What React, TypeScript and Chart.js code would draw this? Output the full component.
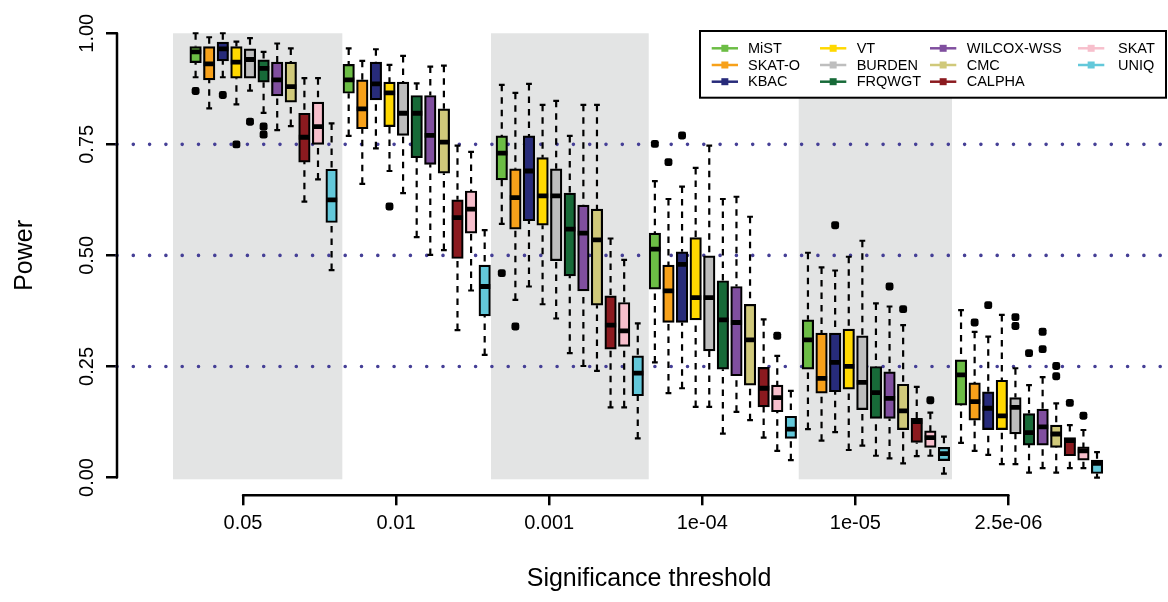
import React, { useEffect, useRef } from "react";
import { Chart, registerables } from "chart.js";

Chart.register(...registerables);

// ---------------- data ----------------
const METHODS = ["MiST", "SKAT-O", "KBAC", "VT", "BURDEN", "FRQWGT", "WILCOX-WSS", "CMC", "CALPHA", "SKAT", "UNIQ"];
const COLORS = ["#6cbd45", "#f7a11a", "#272b7a", "#ffd800", "#bebebe", "#176a38", "#804f9f", "#d0c97a", "#8b1a1f", "#f7bfcc", "#63c8da"];
const THRESHOLDS = ["0.05", "0.01", "0.001", "1e-04", "1e-05", "2.5e-06"];
const Y_TICKS = [0, 0.25, 0.5, 0.75, 1];
const Y_TICK_LABELS = ["0.00", "0.25", "0.50", "0.75", "1.00"];
const REFERENCE_LINES = [0.25, 0.5, 0.75];

// one row per threshold: [lower whisker, Q1, median, Q3, upper whisker]
const MIST = [
  [0.901, 0.934, 0.958, 0.970, 1.000],
  [0.769, 0.865, 0.895, 0.930, 0.966],
  [0.571, 0.670, 0.730, 0.769, 0.884],
  [0.259, 0.424, 0.514, 0.550, 0.667],
  [0.109, 0.244, 0.310, 0.355, 0.506],
  [0.078, 0.163, 0.231, 0.265, 0.377],
];
const SKAT_O = [
  [0.831, 0.895, 0.931, 0.970, 0.991],
  [0.661, 0.785, 0.830, 0.895, 0.938],
  [0.400, 0.559, 0.630, 0.695, 0.866],
  [0.190, 0.349, 0.420, 0.478, 0.627],
  [0.083, 0.190, 0.223, 0.325, 0.473],
  [0.060, 0.129, 0.171, 0.213, 0.328],
];
const KBAC = [
  [0.901, 0.938, 0.965, 0.980, 1.000],
  [0.741, 0.850, 0.886, 0.935, 0.964],
  [0.430, 0.578, 0.690, 0.769, 0.886],
  [0.201, 0.349, 0.480, 0.508, 0.655],
  [0.102, 0.193, 0.259, 0.325, 0.466],
  [0.051, 0.108, 0.156, 0.193, 0.317],
];
const VT = [
  [0.840, 0.899, 0.935, 0.970, 0.981],
  [0.690, 0.790, 0.866, 0.890, 0.929],
  [0.390, 0.568, 0.634, 0.720, 0.839],
  [0.159, 0.355, 0.405, 0.540, 0.697],
  [0.062, 0.199, 0.250, 0.334, 0.497],
  [0.030, 0.108, 0.139, 0.219, 0.366],
];
const BURDEN = [
  [0.871, 0.899, 0.941, 0.965, 0.989],
  [0.640, 0.770, 0.820, 0.890, 0.949],
  [0.358, 0.488, 0.634, 0.695, 0.848],
  [0.159, 0.285, 0.405, 0.499, 0.747],
  [0.072, 0.153, 0.214, 0.319, 0.533],
  [0.030, 0.098, 0.158, 0.180, 0.246],
];
const FRQWGT = [
  [0.821, 0.890, 0.921, 0.940, 0.958],
  [0.541, 0.720, 0.820, 0.860, 0.887],
  [0.280, 0.454, 0.559, 0.640, 0.769],
  [0.099, 0.244, 0.355, 0.443, 0.627],
  [0.049, 0.133, 0.191, 0.250, 0.392],
  [0.011, 0.073, 0.101, 0.144, 0.208],
];
const WILCOX_WSS = [
  [0.782, 0.859, 0.895, 0.935, 0.977],
  [0.501, 0.705, 0.770, 0.860, 0.925],
  [0.251, 0.420, 0.550, 0.613, 0.839],
  [0.148, 0.229, 0.349, 0.430, 0.632],
  [0.043, 0.133, 0.178, 0.238, 0.385],
  [0.021, 0.073, 0.114, 0.154, 0.226],
];
const CMC = [
  [0.791, 0.845, 0.880, 0.935, 0.966],
  [0.512, 0.685, 0.755, 0.830, 0.927],
  [0.240, 0.388, 0.535, 0.604, 0.839],
  [0.129, 0.208, 0.310, 0.390, 0.587],
  [0.032, 0.108, 0.150, 0.210, 0.343],
  [0.011, 0.068, 0.098, 0.118, 0.167],
];
const CALPHA = [
  [0.621, 0.710, 0.766, 0.820, 0.899],
  [0.332, 0.493, 0.585, 0.625, 0.747],
  [0.158, 0.289, 0.343, 0.409, 0.538],
  [0.090, 0.159, 0.201, 0.248, 0.356],
  [0.048, 0.079, 0.126, 0.133, 0.204],
  [0.021, 0.049, 0.083, 0.090, 0.118],
];
const SKAT = [
  [0.671, 0.750, 0.790, 0.845, 0.899],
  [0.421, 0.550, 0.604, 0.645, 0.733],
  [0.158, 0.295, 0.330, 0.394, 0.490],
  [0.060, 0.148, 0.180, 0.208, 0.274],
  [0.049, 0.068, 0.090, 0.105, 0.146],
  [0.021, 0.039, 0.060, 0.069, 0.107],
];
const UNIQ = [
  [0.467, 0.574, 0.625, 0.694, 0.797],
  [0.276, 0.364, 0.430, 0.478, 0.557],
  [0.088, 0.184, 0.235, 0.274, 0.347],
  [0.039, 0.088, 0.109, 0.138, 0.195],
  [0.009, 0.038, 0.054, 0.068, 0.092],
  [0.000, 0.009, 0.032, 0.039, 0.057],
];

// outliers: [threshold index, power]
const MIST_OUT = [[0, 0.870], [2, 0.460], [3, 0.751]];
const SKAT_O_OUT = [[2, 0.340], [3, 0.710], [5, 0.349]];
const KBAC_OUT = [[0, 0.861], [3, 0.770], [4, 0.568], [5, 0.388]];
const VT_OUT = [[0, 0.750], [1, 0.610]];
const BURDEN_OUT = [[0, 0.801], [5, 0.361], [5, 0.341]];
const FRQWGT_OUT = [[0, 0.790], [0, 0.772], [5, 0.280]];
const WILCOX_WSS_OUT = [[4, 0.430], [5, 0.328], [5, 0.289]];
const CMC_OUT = [[4, 0.379], [5, 0.251], [5, 0.228]];
const CALPHA_OUT = [[5, 0.168]];
const SKAT_OUT = [[3, 0.319], [4, 0.174], [5, 0.139]];
const UNIQ_OUT: number[][] = [];

const BOXES = [MIST, SKAT_O, KBAC, VT, BURDEN, FRQWGT, WILCOX_WSS, CMC, CALPHA, SKAT, UNIQ];
const OUTLIERS = [MIST_OUT, SKAT_O_OUT, KBAC_OUT, VT_OUT, BURDEN_OUT, FRQWGT_OUT, WILCOX_WSS_OUT, CMC_OUT, CALPHA_OUT, SKAT_OUT, UNIQ_OUT];

// ---------------- layout (x units = one box slot) ----------------
const GROUP_STEP = 11.257;
const TICK_SHIFT = 3.485;
const X_MIN = -5.78;
const X_MAX = 72.46;
const SHADED_BANDS = [[-1.66, 10.79], [21.72, 33.32], [44.35, 55.62]];
const CANVAS_W = 1181;
const CANVAS_H = 602;
const FONT = "'Liberation Sans', Arial, Helvetica, sans-serif";

const boxX = (g: number, m: number) => g * GROUP_STEP + m;
const TICK_X = THRESHOLDS.map((_, g) => g * GROUP_STEP + TICK_SHIFT);

const LEGEND = {
  insetRight: 15,
  insetTop: 15.5,
  width: 466,
  height: 66.7,
  symOff: [11.7, 120, 230, 378],
  textOff: [48, 156.7, 266.7, 418],
  rowOff: [17.3, 34, 50.7],
  symLen: 26.3,
};

const decorPlugin = {
  id: "decor",
  beforeDatasetsDraw(chart: any) {
    const { ctx, chartArea, scales } = chart;
    const x = scales.x;
    const y = scales.y;
    ctx.save();
    ctx.fillStyle = "#e3e4e4";
    for (const [a, b] of SHADED_BANDS) {
      const x0 = x.getPixelForValue(a);
      const x1 = x.getPixelForValue(b);
      const y0 = y.getPixelForValue(1);
      const y1 = y.getPixelForValue(-0.004);
      ctx.fillRect(x0, y0, x1 - x0, y1 - y0);
    }
    ctx.strokeStyle = "#453f96";
    ctx.lineWidth = 3.6;
    ctx.lineCap = "round";
    ctx.setLineDash([0, 16.3]);
    for (const v of REFERENCE_LINES) {
      const py = y.getPixelForValue(v);
      ctx.beginPath();
      ctx.moveTo(chartArea.left, py);
      ctx.lineTo(chartArea.right, py);
      ctx.stroke();
    }
    ctx.restore();
  },
  afterDraw(chart: any) {
    const { ctx, chartArea, scales } = chart;
    const x = scales.x;
    const y = scales.y;
    ctx.save();
    // axis lines spanning the tick range only
    ctx.strokeStyle = "#000";
    ctx.lineWidth = 2.5;
    ctx.lineCap = "round";
    ctx.beginPath();
    ctx.moveTo(chartArea.left, y.getPixelForValue(Y_TICKS[0]));
    ctx.lineTo(chartArea.left, y.getPixelForValue(Y_TICKS[Y_TICKS.length - 1]));
    ctx.moveTo(x.getPixelForValue(TICK_X[0]), chartArea.bottom);
    ctx.lineTo(x.getPixelForValue(TICK_X[TICK_X.length - 1]), chartArea.bottom);
    ctx.stroke();

    // legend
    const left = chartArea.right - LEGEND.insetRight - LEGEND.width;
    const top = chartArea.top + LEGEND.insetTop;
    ctx.fillStyle = "#fff";
    ctx.fillRect(left, top, LEGEND.width, LEGEND.height);
    ctx.lineWidth = 2;
    ctx.lineCap = "butt";
    ctx.strokeStyle = "#000";
    ctx.strokeRect(left, top, LEGEND.width, LEGEND.height);
    ctx.font = `14.5px ${FONT}`;
    ctx.textBaseline = "middle";
    ctx.textAlign = "left";
    METHODS.forEach((name, i) => {
      const col = Math.floor(i / 3);
      const row = i % 3;
      const sx = left + LEGEND.symOff[col];
      const ry = top + LEGEND.rowOff[row];
      ctx.strokeStyle = COLORS[i];
      ctx.lineWidth = 2.5;
      ctx.beginPath();
      ctx.moveTo(sx, ry);
      ctx.lineTo(sx + LEGEND.symLen, ry);
      ctx.stroke();
      ctx.fillStyle = COLORS[i];
      ctx.fillRect(sx + LEGEND.symLen / 2 - 3.5, ry - 3.5, 7, 7);
      ctx.fillStyle = "#000";
      ctx.fillText(name, left + LEGEND.textOff[col], ry + 0.5);
    });
    ctx.restore();
  },
};

function buildDatasets() {
  const datasets: any[] = [];
  const whiskers: any[] = [];
  const caps: any[] = [];
  const medians: any[] = [];
  const outliers: any[] = [];
  BOXES.forEach((rows, m) => {
    datasets.push({
      type: "bar",
      label: METHODS[m],
      data: rows.map((r, g) => ({ x: boxX(g, m), y: [r[1], r[3]] })),
      backgroundColor: COLORS[m],
      borderColor: "#000",
      borderWidth: 2.2,
      borderSkipped: false,
      barThickness: 11.5,
      grouped: false,
      order: 3,
    });
    rows.forEach((r, g) => {
      const px = boxX(g, m);
      whiskers.push({ x: px, y: r[4] }, { x: px, y: r[3] }, { x: px, y: null });
      whiskers.push({ x: px, y: r[0] }, { x: px, y: r[1] }, { x: px, y: null });
      caps.push({ x: px, y: r[4] }, { x: px, y: r[0] });
      medians.push({ x: px, y: r[2] });
    });
    OUTLIERS[m].forEach(([g, v]) => outliers.push({ x: boxX(g, m), y: v }));
  });
  datasets.push({
    type: "line",
    label: "whiskers",
    data: whiskers,
    borderColor: "#000",
    borderWidth: 2.2,
    borderDash: [6.5, 6],
    pointRadius: 0,
    spanGaps: false,
    fill: false,
    tension: 0,
    order: 4,
  });
  datasets.push({
    type: "scatter",
    label: "caps",
    data: caps,
    pointStyle: "line",
    pointRadius: 2.9,
    borderColor: "#000",
    borderWidth: 2.2,
    order: 1,
  });
  datasets.push({
    type: "scatter",
    label: "medians",
    data: medians,
    pointStyle: "line",
    pointRadius: 5.6,
    borderColor: "#000",
    borderWidth: 4.8,
    order: 1,
  });
  datasets.push({
    type: "scatter",
    label: "outliers",
    data: outliers,
    pointStyle: "rectRounded",
    pointRadius: 4.6,
    backgroundColor: "#000",
    borderColor: "#000",
    borderWidth: 0,
    order: 0,
  });
  return datasets;
}

export default function App() {
  const ref = useRef<HTMLCanvasElement>(null);
  useEffect(() => {
    const canvas = ref.current;
    if (!canvas) return;
    Chart.defaults.font.family = FONT;
    const chart = new Chart(canvas, {
      type: "bar",
      data: { datasets: buildDatasets() },
      options: {
        animation: false,
        responsive: false,
        maintainAspectRatio: false,
        events: [],
        layout: { autoPadding: false, padding: { top: 15.5, left: 0, right: 0, bottom: 0 } },
        plugins: { legend: { display: false }, tooltip: { enabled: false } },
        scales: {
          x: {
            type: "linear",
            min: X_MIN,
            max: X_MAX,
            offset: false,
            border: { display: false },
            grid: { display: true, drawOnChartArea: false, drawTicks: true, tickLength: 10, lineWidth: 2.5, color: "#000", offset: false },
            afterBuildTicks: (s: any) => {
              s.ticks = TICK_X.map((v) => ({ value: v }));
            },
            afterFit: (s: any) => {
              s.height = CANVAS_H - 495.3;
            },
            ticks: {
              autoSkip: false,
              minRotation: 0,
              maxRotation: 0,
              padding: 5.7,
              color: "#000",
              font: { family: FONT, size: 20 },
              callback: (_v: any, i: number) => THRESHOLDS[i],
            },
            title: {
              display: true,
              text: "Significance threshold",
              color: "#000",
              font: { family: FONT, size: 25 },
              padding: { top: 0, bottom: 8 },
            },
          } as any,
          y: {
            type: "linear",
            min: -0.04,
            max: 1.04,
            border: { display: false },
            grid: { display: true, drawOnChartArea: false, drawTicks: true, tickLength: 11, lineWidth: 2.5, color: "#000" },
            afterBuildTicks: (s: any) => {
              s.ticks = Y_TICKS.map((v) => ({ value: v }));
            },
            afterFit: (s: any) => {
              s.width = 117;
            },
            ticks: {
              minRotation: 90,
              maxRotation: 90,
              crossAlign: "center",
              padding: -1,
              color: "#000",
              font: { family: FONT, size: 20 },
              callback: (_v: any, i: number) => Y_TICK_LABELS[i],
            },
            title: {
              display: true,
              text: "Power",
              color: "#000",
              font: { family: FONT, size: 25 },
              padding: { top: 10, bottom: 0 },
            },
          } as any,
        },
      },
      plugins: [decorPlugin],
    } as any);
    return () => chart.destroy();
  }, []);
  return (
    <div style={{ position: "fixed", left: 0, top: 0, width: 1168, height: CANVAS_H, overflow: "hidden", background: "#fff" }}>
      <div style={{ position: "relative", width: CANVAS_W, height: CANVAS_H }}>
        <canvas ref={ref} width={CANVAS_W} height={CANVAS_H} style={{ display: "block", width: CANVAS_W, height: CANVAS_H }} />
      </div>
    </div>
  );
}
